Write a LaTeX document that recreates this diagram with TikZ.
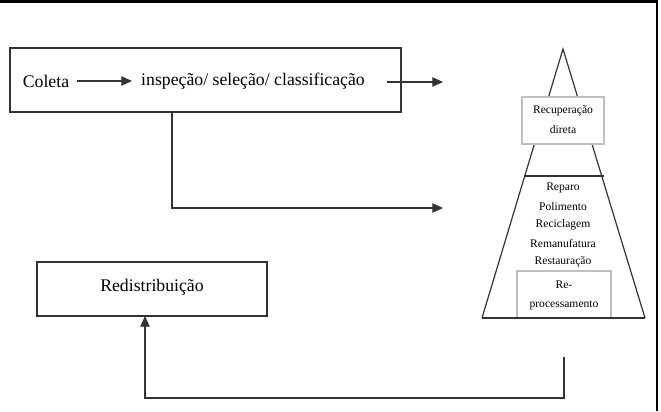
\documentclass[tikz,border=0pt]{standalone}
\usepackage{fontspec}
\setmainfont{Liberation Serif}
\usetikzlibrary{arrows.meta}
\begin{document}
\begin{tikzpicture}[x=0.75pt,y=-0.75pt,
  ln/.style={draw=black!80,line width=0.9pt},
  arr/.style={ln,-{Triangle[length=8pt,width=7pt]}},
  boxst/.style={draw=black!80,line width=0.9pt,inner sep=0pt},
  gbox/.style={draw=black!25,line width=0.8pt,fill=white,inner sep=0pt},
  big/.style={font=\fontsize{13.3}{15}\selectfont,inner sep=0pt},
  small/.style={font=\fontsize{8.7}{10}\selectfont,inner sep=0pt},
  frame/.style={draw=black,line width=2.2pt}]
\useasboundingbox (0,0) rectangle (661,411);
% frame
\draw[frame] (0,1.5) -- (657,1.5) -- (657,411);
% top box
\node (box1) [boxst,minimum width=293.25pt,minimum height=48pt] at (205.5,80) {};
\node (coleta) [big] at (46,81) {Coleta};
\node (insp) [big] at (253,81) {inspeção/ seleção/ classificação};
\coordinate (c1s) at (77,81);
\coordinate (c1e) at (132,81);
\draw[arr] (c1s) -- (c1e);
\coordinate (c2s) at (387,82);
\coordinate (c2e) at (443,82);
\draw[arr] (c2s) -- (c2e);
% down and right
\coordinate (d1) at (172,112);
\coordinate (d2) at (172,208);
\coordinate (d3) at (443,208);
\draw[arr] (d1) -- (d2) -- (d3);
% pyramid
\coordinate (apex) at (563,49);
\coordinate (bl) at (482,318);
\coordinate (br) at (645,318);
\draw[ln] (bl) -- (apex) -- (br);
\coordinate (m1) at (524,176);
\coordinate (m2) at (604,176);
\draw[ln] (m1) -- (m2);
\node (rec) [gbox,minimum width=61.5pt,minimum height=35.25pt] at (563,120.5) {};
\node [small] at (563,111) {Recuperação};
\node [small] at (563,130) {direta};
\node [small] at (563,188) {Reparo};
\node [small] at (563,206.5) {Polimento};
\node [small] at (563,225) {Reciclagem};
\node [small] at (563,243.5) {Remanufatura};
\node [small] at (563,262) {Restauração};
\node (rep) [gbox,minimum width=70.5pt,minimum height=35.25pt] at (564,294.5) {};
\node [small] at (564,285) {Re-};
\node [small] at (564,305) {processamento};
\draw[ln] (bl) -- (br);
% redistribution
\node (red) [boxst,minimum width=172.5pt,minimum height=40.5pt] at (152,289) {};
\node [big] at (152,287) {Redistribuição};
\coordinate (r1) at (564,357);
\coordinate (r2) at (564,398);
\coordinate (r3) at (145,398);
\coordinate (r4) at (145,316);
\draw[arr] (r1) -- (r2) -- (r3) -- (r4);
\end{tikzpicture}
\end{document}
